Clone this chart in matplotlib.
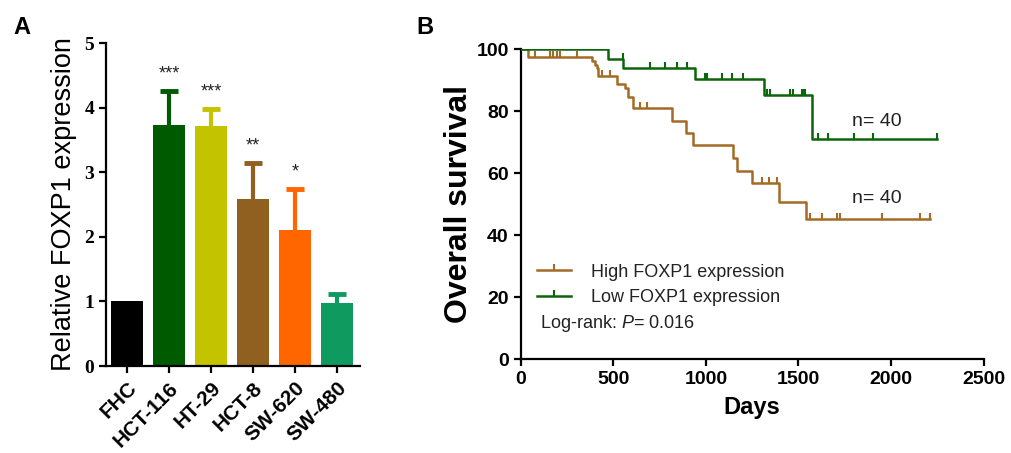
import numpy as np
import matplotlib.pyplot as plt
from matplotlib.lines import Line2D
from matplotlib.path import Path

plt.rcParams['font.family'] = ['Liberation Sans', 'DejaVu Sans']
plt.rcParams['mathtext.fontset'] = 'custom'
plt.rcParams['mathtext.rm'] = 'Liberation Sans'
plt.rcParams['mathtext.it'] = 'Liberation Sans:italic'

# ---- panel A data ----
cell_lines = ['FHC', 'HCT-116', 'HT-29', 'HCT-8', 'SW-620', 'SW-480']
expr_mean = [1.0, 3.73, 3.71, 2.58, 2.11, 0.97]
expr_err = [0.0, 0.53, 0.27, 0.56, 0.63, 0.14]
signif = ['', '***', '***', '**', '*', '']
bar_colors = ['#000000', '#005a00', '#c3c300', '#8f6020', '#ff6600', '#0f9a60']

# ---- panel B data (Kaplan-Meier) ----
high_days = [0, 41, 383, 401, 410, 419, 518, 563, 581, 608, 818, 893, 932,
             1148, 1166, 1247, 1396, 1539]
high_surv = [100, 97.4, 96.2, 94.9, 93.8, 91.5, 88.7, 87.4, 84.7, 81.2, 77.0,
             72.9, 69.0, 64.8, 60.8, 56.7, 50.8, 45.3]
high_end = 2210
high_censor = [77, 158, 176, 194, 212, 302, 437, 482, 644, 680, 1303, 1343,
               1382, 1562, 1625, 1706, 1724, 1949, 2156, 2210]

low_days = [0, 473, 554, 941, 1315, 1571]
low_surv = [100, 97.0, 94.0, 90.4, 85.2, 70.9]
low_end = 2246
low_censor = [14, 41, 221, 374, 428, 446, 464, 550, 698, 779, 842, 896, 995,
              1004, 1085, 1139, 1202, 1328, 1346, 1454, 1472, 1517, 1526,
              1535, 1607, 1661, 1801, 1904, 2246]

high_color = '#a36b25'
low_color = '#0b650b'

fig = plt.figure(figsize=(10.11, 4.53), dpi=100)

# ---------------- panel A ----------------
axA = fig.add_axes([0.1048, 0.192, 0.2514, 0.713])
x = np.arange(len(cell_lines))
for i in range(len(cell_lines)):
    axA.bar(x[i], expr_mean[i], width=0.76, color=bar_colors[i], zorder=2)
    if expr_err[i] > 0:
        top = expr_mean[i] + expr_err[i]
        axA.plot([x[i], x[i]], [expr_mean[i], top], color=bar_colors[i],
                 lw=3, solid_capstyle='butt', zorder=1)
        axA.plot([x[i]], [top], marker='_', markersize=13, markeredgewidth=3.5,
                 color=bar_colors[i], zorder=1)
    if signif[i]:
        axA.text(x[i], expr_mean[i] + expr_err[i] + 0.13, signif[i],
                 ha='center', va='bottom', fontsize=13, color='#222222')

axA.set_xlim(-0.5, 5.55)
axA.set_ylim(0, 5)
axA.set_yticks([0, 1, 2, 3, 4, 5])
axA.set_yticklabels(['0', '1', '2', '3', '4', '5'],
                    family=['Liberation Serif'], weight='bold', fontsize=14)
axA.set_xticks(x)
axA.set_xticklabels(cell_lines, rotation=45, ha='right', rotation_mode='anchor',
                    weight='bold', fontsize=15)
axA.set_ylabel('Relative FOXP1 expression', fontsize=19.5, labelpad=5)
for s in ['top', 'right']:
    axA.spines[s].set_visible(False)
for s in ['left', 'bottom']:
    axA.spines[s].set_linewidth(1.6)
axA.tick_params(width=1.6, length=5)
axA.tick_params(axis='x', pad=4)

fig.text(0.022, 0.94, 'A', fontsize=17, weight='bold', ha='center', va='center')

# ---------------- panel B ----------------
axB = fig.add_axes([0.515, 0.2075, 0.458, 0.6837])
censor_mark = Path([(0, 0), (0, 1)], [Path.MOVETO, Path.LINETO])


def draw_km(ax, days, surv, end, censor, color):
    xs = list(days) + [end]
    ys = list(surv) + [surv[-1]]
    ax.step(xs, ys, where='post', color=color, lw=1.8, zorder=3)
    idx = np.searchsorted(days, censor, side='right') - 1
    cy = np.array(surv)[idx]
    ax.plot(censor, cy, ls='none', marker=censor_mark, markersize=8,
            markeredgewidth=1.5, color=color, zorder=3)


draw_km(axB, high_days, high_surv, high_end, high_censor, high_color)
draw_km(axB, low_days, low_surv, low_end, low_censor, low_color)

axB.set_xlim(0, 2500)
axB.set_ylim(0, 100)
axB.set_xticks([0, 500, 1000, 1500, 2000, 2500])
axB.set_yticks([0, 20, 40, 60, 80, 100])
axB.tick_params(labelsize=14, width=1.6, length=5)
for lab in axB.get_xticklabels() + axB.get_yticklabels():
    lab.set_fontweight('bold')
for s in ['top', 'right']:
    axB.spines[s].set_visible(False)
for s in ['left', 'bottom']:
    axB.spines[s].set_linewidth(1.6)
axB.set_xlabel('Days', fontsize=17, weight='bold', labelpad=6)
axB.set_ylabel('Overall survival', fontsize=23, weight='bold', labelpad=2)

axB.text(1924, 76.8, 'n= 40', fontsize=14, ha='center', va='center', color='#222222')
axB.text(1924, 51.7, 'n= 40', fontsize=14, ha='center', va='center', color='#222222')

handles = [Line2D([], [], color=high_color, lw=1.8, marker=censor_mark,
                  markersize=8, markeredgewidth=1.5),
           Line2D([], [], color=low_color, lw=1.8, marker=censor_mark,
                  markersize=8, markeredgewidth=1.5)]
axB.legend(handles, ['High FOXP1 expression', 'Low FOXP1 expression'],
           loc='upper left', bbox_to_anchor=(0.0, 0.36), frameon=False,
           fontsize=13, handlelength=1.9, handletextpad=1.1, labelspacing=0.45,
           labelcolor='#222222')
axB.text(0.042, 0.116, r'Log-rank: $\it{P}$= 0.016', transform=axB.transAxes,
         fontsize=13, ha='left', va='center', color='#222222')

fig.text(0.42, 0.94, 'B', fontsize=17, weight='bold', ha='center', va='center')

fig.savefig('out.png', dpi=100)
